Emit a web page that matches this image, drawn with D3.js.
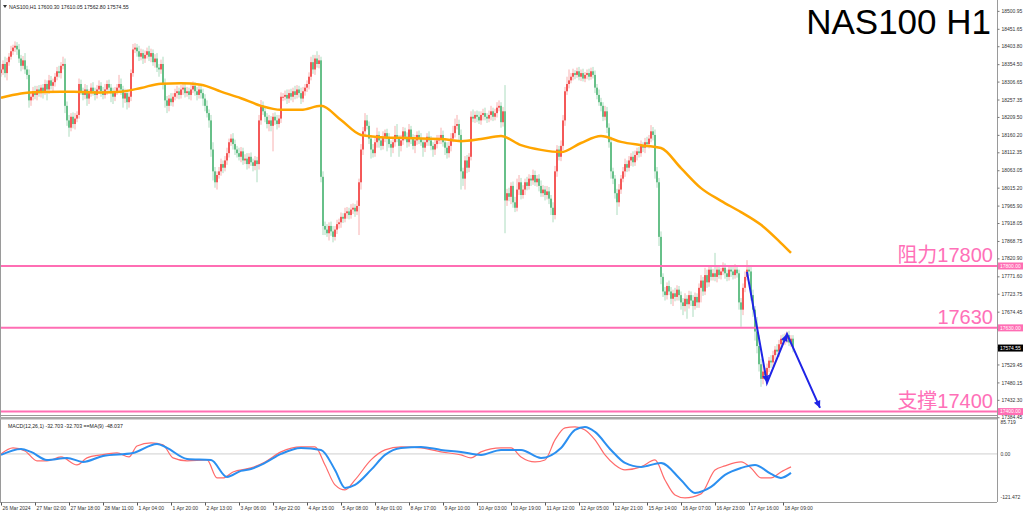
<!DOCTYPE html>
<html><head><meta charset="utf-8">
<script src="https://cdn.jsdelivr.net/npm/d3@7/dist/d3.min.js"></script>
<style>body{margin:0;background:#fff;} svg{display:block;font-family:"Liberation Sans",Arial,sans-serif;}</style>
</head><body><svg id="c" width="1024" height="515"></svg>
<script>
// ---------- DATA ----------
const firstOpen = 18330;
const closes = [
18340,18355,18330,18360,18375,18390, 18400,18405,18395, 18370,18350,18365,18340, 18325,18255,
18265,18280,18270,18285,18275,18290,18280, 18300,18285,18310,18295,18305, 18320,18335,18330,18350,18355,
18240, 18200,18180,18210,18190,18205,18215, 18300,
18280,18270,18285,18260,18275,18290,18280,18270,18285,18295,18280,18270,18285,18300,18290,18275,18265,18280,18290,18300,18285,18260,18275,18250,18265,
18330,18395,
18400,18390,18375,18385,18370,18380,18390,18375,18385,18360,18370,18345,18340,18355,
18300,18255, 18240,18260,18250,
18265,18275,18280,18270,18285,18290,18275,18280,18270,18285,18295,18280,18270,18285,18275,18260,
18240,18220,18200, 18120,18060,18030,18050, 18060,18080,18070,18090,18110, 18140,18150,18135,
18120,18110,18100,18115,18090,18095,18080,18100,18085,18075,18090,
18080,18200,18240,18225,
18210,18190,18200,18185,18210,18200,18190,18205,18265,
18265,18270,18260,18275,18265,18280,18270,18285,18275,18260,18280,18290,
18300,18320,18360,18340,18370,18355,18365,
18045,17910,
17900,17890,17910,17895,17880,17900,17915,
17920,17935,17930,17945,17950,17940,17955,17960,17950,17965,
18030,18120,18170,18200,18185,
18150,18120,18110,18140,18160,18145,18130,18155,18165,18150,18135,18125,18140,18160,18150,18130,18145,18170,18155,18140,
18175,18150,18130,18145,18160,18150,18140,18125,18140,18155,18145,18130,18120,18135,18145,18150,18160,18140,18125,18110,
18130,18150,18165,18185,
18190,18160,18060,18040, 18090,18070,18100, 18210,
18205,18215,18210,18200,18215,18220,18210,18205,18215,18225,18210,18220,18235,18240,18195,18225,
17980,
18000,17990,18020,17975,17960,18010,18030,17995,
18010,18030,18020,18040,18035,18050,18030,18040,18020,18000,
18010,17995,18005,17985,17960,17940,
18060,18120,18100,18130, 18200,18280,18300,18310,
18320,18330,18325,18335,18320,18330,18315,18325,18330,18320,18335,18325,
18290,18270,18250,18240,18210,18225,18180, 18140,18060,18040, 18000,17975,18010,
18040,18060,18080,18070,18090,18100,18085,18105,18115,18110,18130,18125,18140,18135,18150,18170,18160,
18060,18030, 17880,17770,17730,
17720,17745,17730,17710,17725,17715,17735,17720,
17700,17690,17710,17695,17720,17705,17690,17715,17700,
17740,17760,17730,17775,17755,17790,17770,
17780,17770,17790,17775,17785,17795,17780,17770,17790,17785,17775,17790,17780,
17700,17680, 17740,17770,17790,17785, 17720,17680,17620,17580, 17530,17490,17510,17500,
17520,17540,17535,17555,17570,17565,17585,17600,17595,17600,
17610,17590,17600.30,17574.55
];
const wickUp = [
15,10,20,12,10,15, 8,12,10, 15,10,12,20, 10,15,
10,12,15,10,12,8,10, 12,10,15,12,10, 10,12,15,10,20,
15, 12,15,10,12,15,10, 15,
12,10,15,12,10,12,15,10,12,15,10,12,15,10,12,10,15,12,10,25,15,10,12,10,12,
10,15,
12,10,15,12,10,12,10,15,12,10,12,15,10,12,
20,15, 12,10,15,
10,12,15,10,12,10,15,12,10,15,12,10,12,15,10,12,
12,15,10, 15,20,12,10, 12,15,10,12,15, 10,12,15,
12,10,15,12,10,12,15,10,12,10,12,
10,15,16,12,
12,10,15,12,10,12,15,10,12,
10,12,15,10,12,10,15,12,10,15,12,10,
10,12,15,20,10,20,15,
10,15,
12,15,10,12,15,10,12,
10,12,10,15,12,10,15,12,10,15,
10,15,12,20,15,
12,10,15,12,20,10,12,15,10,12,15,10,12,25,30,10,15,12,10,12,
15,10,12,15,10,12,15,10,12,10,15,12,10,12,15,10,20,12,10,15,
12,15,20,20,
25,12,15,10, 12,15,10, 15,
20,10,12,15,10,12,15,10,12,15,10,12,15,15,10,12,
72,
12,15,10,12,15,30,20,12,
12,10,15,12,10,15,12,10,12,15,
12,10,15,12,10,15,
15,12,10,15, 15,12,20,30,
10,12,8,10,12,10,12,8,10,12,10,12,
12,10,15,12,10,15,12, 12,15,10, 10,12,15,
10,12,15,10,12,10,15,12,10,12,15,10,12,15,10,17,12,
15,12, 12,15,10,
12,10,15,12,10,15,12,10,
10,12,15,10,12,10,15,12,10,
12,15,10,20,15,12,10,
12,56,10,12,10,15,12,10,12,10,12,15,10,
10,12, 12,15,26,12, 12,15,10,40, 30,15,20,10,
12,10,15,12,10,15,12,10,12,15,
10,12,9.75,9.75
];
const wickDn = [
10,15,12,20,10,8, 10,12,15, 12,15,10,12, 12,20,
15,10,12,15,10,12,20, 10,30,12,10,15, 12,10,12,15,10,
20, 15,25,10,12,15,10, 10,
10,15,12,20,15,10,12,15,10,12,15,12,10,15,12,25,20,12,10,12,15,25,12,20,15,
12,10,
10,15,12,10,15,12,10,12,15,10,15,12,20,12,
15,20, 20,15,10,
12,10,15,12,10,15,12,10,12,15,10,12,15,10,15,20,
15,12,20, 20,25,15,20, 10,12,15,10,12, 12,10,15,
15,12,10,15,12,10,15,12,10,15,12,
50,15,12,10,
15,12,20,15,70,12,15,10,12,
12,10,15,12,10,15,12,10,12,15,10,12,
12,15,10,12,15,10,12,
15,25,
15,10,20,12,15,10,12,
12,15,12,10,15,12,10,12,15,10,
80,20,15,12,10,
15,25,12,10,15,20,12,10,15,35,10,25,15,12,10,30,15,12,10,15,
12,15,10,20,12,15,10,25,12,10,15,12,20,15,12,10,15,12,20,15,
12,15,10,12,
10,15,50,20, 30,15,12, 10,
10,12,15,10,12,15,10,12,10,15,12,10,12,10,15,12,
90,
15,12,20,15,12,10,15,12,
10,15,12,10,15,12,10,12,15,10,
10,15,12,15,20,20,
12,15,10,12, 12,15,10,12,
8,10,12,8,10,12,8,10,12,10,8,10,
15,12,10,15,12,10,15, 15,20,15, 15,35,12,
12,10,15,12,10,15,12,10,15,12,10,12,15,10,12,10,15,
20,15, 25,20,15,
15,12,10,15,20,12,10,15,
20,25,15,40,12,15,30,10,15,
15,40,12,10,15,12,10,
10,12,15,10,12,10,15,12,10,15,12,10,12,
20,47, 15,12,10,12, 15,20,25,20, 20,22,15,12,
10,12,15,10,12,10,15,12,10,12,
12,10,12,11.75
];
// orange moving average, read at bar positions
const maBars   = [0,10,20,30,40,50,60,70,80,90,100,110,120,130,140,150,160,170,180,190,200,210,220,230,240,250,260,270,280,290,300,310,320,330,340,350,360,370,380,390,395];
const maValues = [18262,18274,18278,18279,18278,18277,18279,18289,18301,18302,18298,18279,18261,18240,18229,18229,18240,18201,18160,18154,18152,18150,18149,18143,18149,18157,18132,18119,18113,18138,18157,18141,18132,18124,18069,18014,17979,17948,17913,17863,17836];
// MACD main line (red)
const macdBars   = [0,6,12,18,23,30,38,43,50,58,64,68,75,81,86,93,103,108,111,116,125,132,140,150,157,162,167,172,177,185,192,200,210,220,230,235,240,250,255,260,267,272,277,282,287,292,297,302,307,312,320,327,332,337,342,350,357,362,370,375,380,385,390,395];
const macdValues = [0,15.2,7.6,-17.7,-17.7,-7.6,-27.8,-10.1,-2.5,2.5,-7.6,20.2,27.8,22.7,-10.1,-17.7,-15.2,-60.6,-60.6,-45.5,-35.4,-20.2,5.1,17.7,17.7,-27.8,-78.3,-91,-65.7,-15.2,10.1,17.7,15.2,5.1,-2.5,-10.1,5.1,15.2,15.2,-7.6,-20.2,-15.2,35.4,65.7,68.2,60.6,35.4,-2.5,-27.8,-40.4,-32.8,-15.2,-65.7,-103.6,-111.2,-101,-40.4,-30.3,-20.2,-35.4,-60.6,-60.6,-45.5,-32.7];
// MACD signal line MA(9) (blue)
const signalBars   = [0,10,15,23,33,41,51,66,78,83,93,105,113,120,125,132,140,150,160,167,172,177,185,192,200,210,220,230,240,250,260,270,280,287,292,297,305,312,320,330,340,347,355,362,370,377,385,390,395];
const signalValues = [-2.5,12.6,5.1,-15.2,-10.1,-20.2,-5.1,2.5,25.3,15.2,-12.6,-15.2,-58.1,-42.9,-37.9,-22.7,0,15.2,10.1,-40.4,-85.9,-78.3,-40.4,-2.5,15.2,17.7,10.1,5.1,-2.5,10.1,10.1,-10.1,15.2,60.6,68.2,55.6,10.1,-22.7,-32.8,-22.7,-65.7,-98.5,-83.4,-53.1,-35.4,-27.8,-50.5,-60.6,-48.0];
const timeLabels = ["26 Mar 2024","27 Mar 02:00","27 Mar 18:00","28 Mar 11:00","1 Apr 04:00","1 Apr 20:00","2 Apr 13:00","3 Apr 06:00","3 Apr 22:00","4 Apr 15:00","5 Apr 08:00","8 Apr 01:00","8 Apr 17:00","9 Apr 10:00","10 Apr 03:00","10 Apr 19:00","11 Apr 12:00","12 Apr 05:00","12 Apr 21:00","15 Apr 14:00","16 Apr 07:00","16 Apr 23:00","17 Apr 16:00","18 Apr 09:00"];
const timeLabelBars = [0,17,34,51,68,85,102,119,136,153,170,187,204,221,238,255,272,289,306,323,340,357,374,391];
const priceTicks = [18500.95,18451.65,18403.80,18354.50,18306.65,18257.35,18209.50,18160.20,18112.35,18063.05,18015.20,17965.90,17918.05,17868.75,17820.90,17771.60,17723.75,17674.45,17626.60,17577.30,17529.45,17480.15,17432.30,17384.45];
const levels = [17800,17630,17400];
const levelTexts = ["阻力17800","17630","支撑17400"];
const arrowBars = [373,383,393,409.5];
const arrowPrices = [17784,17479,17613,17410];
const lastPrice = 17574.55;
const ohlcText = "NAS100,H1  17600.30 17610.05 17562.80 17574.55";
const macdText = "MACD(12,26,1) -32.703 -32.703  ==MA(9) -48.037";
const macdAxis = [85.719, 0, -121.472];

// ---------- SCALES ----------
const svg = d3.select("#c");
const W = 997, PT = 0, PB = 415, MT = 420, MB = 502;
const x = d3.scaleLinear().domain([0, 498.5]).range([0, W]);
const y = d3.scaleLinear().domain([17390.6, 18530.8]).range([PB, PT]);
const ym = d3.scaleLinear().domain([-121.472, 85.719]).range([MB, MT]);

svg.append("rect").attr("width",1024).attr("height",515).attr("fill","#fff");
const defs = svg.append("defs");
defs.append("clipPath").attr("id","cp").append("rect").attr("x",0).attr("y",PT).attr("width",W).attr("height",PB-PT);
defs.append("clipPath").attr("id","cm").append("rect").attr("x",0).attr("y",MT).attr("width",W).attr("height",MB-MT);

// ---------- CANDLES ----------
const gP = svg.append("g").attr("clip-path","url(#cp)");
const bars = closes.map((c,i)=>{
  const o = i===0 ? firstOpen : closes[i-1];
  return {i,o,c,h:Math.max(o,c)+wickUp[i],l:Math.min(o,c)-wickDn[i]};
});
gP.selectAll("line.w").data(bars).join("line")
  .attr("x1",d=>x(d.i+0.5)).attr("x2",d=>x(d.i+0.5))
  .attr("y1",d=>y(d.h)).attr("y2",d=>y(d.l))
  .attr("stroke",d=>d.c>=d.o?"#f8b0b0":"#acdcbf").attr("stroke-width",1);
gP.selectAll("rect.b").data(bars).join("rect")
  .attr("x",d=>x(d.i+0.5)-0.8).attr("width",1.6)
  .attr("y",d=>y(Math.max(d.o,d.c)))
  .attr("height",d=>Math.max(1,Math.abs(y(d.o)-y(d.c))))
  .attr("fill",d=>d.c>=d.o?"#f23a3a":"#4db574");

// moving average
gP.append("path").datum(maBars.map((b,k)=>[b,maValues[k]]))
  .attr("d",d3.line().x(d=>x(d[0]+0.5)).y(d=>y(d[1])).curve(d3.curveMonotoneX))
  .attr("fill","none").attr("stroke","#ffa500").attr("stroke-width",2.5);

// level lines
levels.forEach((lv,k)=>{
  gP.append("line").attr("x1",0).attr("x2",W).attr("y1",y(lv)).attr("y2",y(lv))
    .attr("stroke","#ff6eb4").attr("stroke-width",2);
  svg.append("text").attr("x",993).attr("y",y(lv)-4).attr("text-anchor","end")
    .attr("font-size",20).attr("fill","#ff70b8")
    .attr("font-family","'Liberation Sans','Noto Sans CJK SC',sans-serif").text(levelTexts[k]);
});

// blue arrows
const apts = arrowBars.map((b,k)=>[x(b+0.5), y(arrowPrices[k])]);
svg.append("path").attr("d",d3.line()(apts)).attr("fill","none").attr("stroke","#1f24e6").attr("stroke-width",2);
for(let k=1;k<apts.length;k++){
  const [x0,y0]=apts[k-1],[x1,y1]=apts[k];
  const a=Math.atan2(y1-y0,x1-x0), L=8, s=0.45;
  const p1=[x1-L*Math.cos(a-s), y1-L*Math.sin(a-s)], p2=[x1-L*Math.cos(a+s), y1-L*Math.sin(a+s)];
  svg.append("path").attr("d",`M${x1},${y1}L${p1[0]},${p1[1]}L${p2[0]},${p2[1]}Z`).attr("fill","#1f24e6");
}

// ---------- MACD ----------
const gM = svg.append("g").attr("clip-path","url(#cm)");
gM.append("line").attr("x1",0).attr("x2",W).attr("y1",ym(0)).attr("y2",ym(0)).attr("stroke","#cfcfcf").attr("stroke-width",1);
gM.append("path").datum(macdBars.map((b,k)=>[b,macdValues[k]]))
  .attr("d",d3.line().x(d=>x(d[0]+0.5)).y(d=>ym(d[1])).curve(d3.curveMonotoneX))
  .attr("fill","none").attr("stroke","#ff6b6b").attr("stroke-width",1.2);
gM.append("path").datum(signalBars.map((b,k)=>[b,signalValues[k]]))
  .attr("d",d3.line().x(d=>x(d[0]+0.5)).y(d=>ym(d[1])).curve(d3.curveMonotoneX))
  .attr("fill","none").attr("stroke","#2b8ff0").attr("stroke-width",2);
svg.append("text").attr("x",8).attr("y",428).attr("font-size",5.2).attr("fill","#222").text(macdText);

// ---------- FRAMES ----------
svg.append("line").attr("x1",0.5).attr("x2",0.5).attr("y1",0).attr("y2",MB).attr("stroke","#9a9a9a");
svg.append("line").attr("x1",0).attr("x2",W).attr("y1",PB+0.5).attr("y2",PB+0.5).attr("stroke","#9a9a9a");
svg.append("rect").attr("x",0).attr("y",417).attr("width",W).attr("height",2.5).attr("fill","#a8a8a8");
svg.append("line").attr("x1",0).attr("x2",W).attr("y1",MB+0.5).attr("y2",MB+0.5).attr("stroke","#9a9a9a");
svg.append("line").attr("x1",W+0.5).attr("x2",W+0.5).attr("y1",0).attr("y2",MB).attr("stroke","#9a9a9a");

// ---------- AXES ----------
const ax = svg.append("g").attr("transform",`translate(${W+0.5},0)`)
  .call(d3.axisRight(y).tickValues(priceTicks).tickFormat(d=>d.toFixed(2)).tickSize(2).tickPadding(2));
ax.select(".domain").remove();
ax.selectAll("text").attr("font-size",5).attr("fill","#333").attr("font-family","'Liberation Sans',Arial");
ax.selectAll("line").attr("stroke","#777");

const axm = svg.append("g").attr("transform",`translate(${W+0.5},0)`);
macdAxis.forEach((v,k)=>{
  const yy = k===0? MT+4 : (k===2? MB-3 : ym(v)+2);
  axm.append("text").attr("x",3).attr("y",yy).attr("font-size",5).attr("fill","#333").text(k===1?"0.00":v.toFixed(3));
});

const bx = svg.append("g").attr("transform",`translate(0,${MB+0.5})`)
  .call(d3.axisBottom(x).tickValues(timeLabelBars.map(b=>b+0.5)).tickFormat((d,i)=>timeLabels[i]).tickSize(3).tickPadding(1));
bx.select(".domain").remove();
bx.selectAll("line").attr("stroke","#555");
bx.selectAll("text").attr("font-size",5).attr("fill","#333").attr("text-anchor","start").attr("dx",1).attr("font-family","'Liberation Sans',Arial");

// price boxes on axis
function box(v, fill, col, label){
  const yy = y(v);
  svg.append("rect").attr("x",W+1).attr("y",yy-3.5).attr("width",25).attr("height",7).attr("fill",fill);
  svg.append("text").attr("x",W+3).attr("y",yy+1.8).attr("font-size",5).attr("fill",col).text(label);
}
levels.forEach(lv=>box(lv,"#ff6eb4","#fff",lv.toFixed(2)));
box(lastPrice,"#000","#fff",lastPrice.toFixed(2));

// ---------- TITLES ----------
svg.append("text").attr("x",991).attr("y",34).attr("text-anchor","end").attr("font-size",35)
  .attr("fill","#000").attr("font-family","'Liberation Sans',Arial").text("NAS100 H1");
svg.append("path").attr("d","M3,5L7,5L5,8Z").attr("fill","#333");
svg.append("text").attr("x",9).attr("y",8.5).attr("font-size",5.2).attr("fill","#222").text(ohlcText);
</script></body></html>
